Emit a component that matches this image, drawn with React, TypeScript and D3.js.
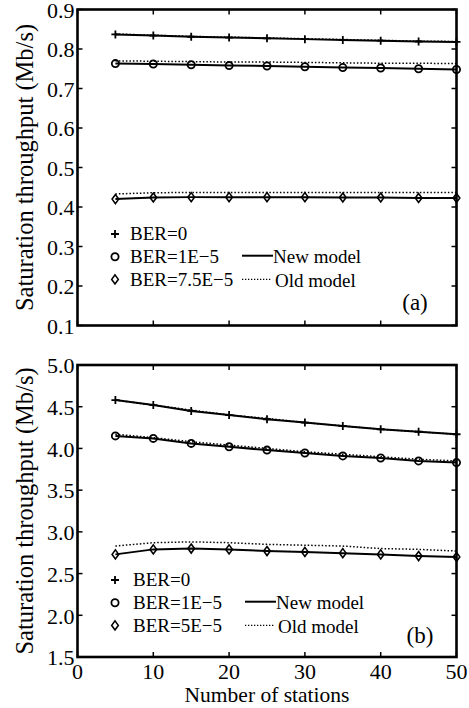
import React from 'react';
import * as d3 from 'd3';

// stations on the x axis
const stations = [5, 10, 15, 20, 25, 30, 35, 40, 45, 50];

// panel (a) values, Mb/s
const aBer0New = [0.837, 0.834, 0.831, 0.829, 0.827, 0.825, 0.823, 0.821, 0.819, 0.818];
const aBer0Old = [0.838, 0.835, 0.832, 0.830, 0.828, 0.826, 0.824, 0.822, 0.820, 0.819];
const aBer1New = [0.763, 0.762, 0.760, 0.758, 0.757, 0.755, 0.753, 0.752, 0.750, 0.748];
const aBer1Old = [0.770, 0.769, 0.768, 0.767, 0.767, 0.766, 0.765, 0.764, 0.764, 0.763];
const aBer2New = [0.420, 0.424, 0.425, 0.425, 0.425, 0.425, 0.424, 0.424, 0.423, 0.423];
const aBer2Old = [0.433, 0.436, 0.437, 0.437, 0.437, 0.437, 0.437, 0.437, 0.437, 0.437];

// panel (b) values, Mb/s
const bBer0New = [4.58, 4.52, 4.45, 4.40, 4.35, 4.31, 4.27, 4.23, 4.20, 4.17];
const bBer0Old = [4.58, 4.52, 4.46, 4.40, 4.36, 4.31, 4.27, 4.23, 4.20, 4.17];
const bBer1New = [4.15, 4.12, 4.06, 4.02, 3.98, 3.945, 3.91, 3.885, 3.85, 3.83];
const bBer1Old = [4.17, 4.13, 4.08, 4.04, 4.00, 3.96, 3.93, 3.90, 3.87, 3.85];
const bBer2New = [2.73, 2.79, 2.80, 2.79, 2.77, 2.76, 2.745, 2.73, 2.71, 2.70];
const bBer2Old = [2.83, 2.87, 2.88, 2.87, 2.85, 2.84, 2.83, 2.80, 2.79, 2.77];

const xTicks = [0, 10, 20, 30, 40, 50];
const aTicks = [0.1, 0.2, 0.3, 0.4, 0.5, 0.6, 0.7, 0.8, 0.9];
const bTicks = [1.5, 2.0, 2.5, 3.0, 3.5, 4.0, 4.5, 5.0];

const aLegend = ['BER=0', 'BER=1E\u22125', 'BER=7.5E\u22125'];
const bLegend = ['BER=0', 'BER=1E\u22125', 'BER=5E\u22125'];

const serif = "'Liberation Serif'";

type Marker = 'plus' | 'circle' | 'diamond';

const MarkerShape = ({ kind, x, y }: { kind: Marker; x: number; y: number }) => {
  if (kind === 'plus') {
    return (
      <path d={`M${x - 4},${y}H${x + 4}M${x},${y - 4}V${y + 4}`} stroke="#000" strokeWidth={1.8} fill="none" />
    );
  }
  if (kind === 'circle') {
    return <circle cx={x} cy={y} r={3.6} stroke="#000" strokeWidth={1.8} fill="none" />;
  }
  return (
    <path d={`M${x},${y - 4.5}L${x + 3.3},${y}L${x},${y + 4.5}L${x - 3.3},${y}Z`} stroke="#000" strokeWidth={1.6} fill="none" />
  );
};

type Series = { news: number[]; olds: number[]; marker: Marker };

const Panel = ({
  top, bottom, domain, ticks, series, legend, tag, legendY, tagX, tagY, textX, keyX, showXLabels,
}: {
  top: number; bottom: number; domain: [number, number]; ticks: number[];
  series: Series[]; legend: string[]; tag: string;
  legendY: number; tagX: number; tagY: number; textX: number; keyX: number; showXLabels: boolean;
}) => {
  const left = 77.5;
  const right = 456.5;
  const x = d3.scaleLinear().domain([0, 50]).range([left, right]);
  const y = d3.scaleLinear().domain(domain).range([bottom, top]);
  const line = d3.line<number>().x((_, i) => x(stations[i])).y(d => y(d));
  const fmt = d3.format('.1f');
  const tl = 5;
  const step = 22.7;

  return (
    <g>
      {series.map((s, k) => (
        <g key={k}>
          <path d={line(s.olds) || ''} fill="none" stroke="#000" strokeWidth={1.5} strokeDasharray="1.5,2" />
          <path d={line(s.news) || ''} fill="none" stroke="#000" strokeWidth={2} />
          {s.news.map((v, i) => (
            <MarkerShape key={i} kind={s.marker} x={x(stations[i])} y={y(v)} />
          ))}
        </g>
      ))}

      {/* ticks on all sides */}
      {ticks.map(t => (
        <g key={t} stroke="#000" strokeWidth={1.5}>
          <line x1={left} x2={left + tl} y1={y(t)} y2={y(t)} />
          <line x1={right} x2={right - tl} y1={y(t)} y2={y(t)} />
        </g>
      ))}
      {xTicks.map(t => (
        <g key={t} stroke="#000" strokeWidth={1.5}>
          <line x1={x(t)} x2={x(t)} y1={bottom} y2={bottom - tl} />
          <line x1={x(t)} x2={x(t)} y1={top} y2={top + tl} />
        </g>
      ))}
      <rect x={left} y={top} width={right - left} height={bottom - top} fill="none" stroke="#000" strokeWidth={2.6} />

      {ticks.map(t => (
        <text key={t} x={left - 3} y={y(t) + 1} dy="0.33em" textAnchor="end" fontSize={22} fontFamily={serif}>
          {fmt(t)}
        </text>
      ))}
      {showXLabels && xTicks.map(t => (
        <text key={t} x={x(t)} y={bottom + 15} dy="0.33em" textAnchor="middle" fontSize={22} fontFamily={serif}>
          {t}
        </text>
      ))}

      <text
        transform={`translate(25,${(top + bottom) / 2}) rotate(-90)`}
        dy="0.33em" textAnchor="middle" fontSize={24.5} fontFamily={serif}
      >
        Saturation throughput (Mb/s)
      </text>

      {/* legend */}
      {legend.map((lab, i) => (
        <g key={lab}>
          <MarkerShape kind={series[i].marker} x={115} y={legendY + i * step} />
          <text x={textX} y={legendY + i * step} dy="0.33em" fontSize={19} fontFamily={serif}>{lab}</text>
        </g>
      ))}
      <line x1={keyX} x2={keyX + 31} y1={legendY + step - 1} y2={legendY + step - 1} stroke="#000" strokeWidth={2} />
      <text x={keyX + 31} y={legendY + step + 0.5} dy="0.33em" fontSize={19} fontFamily={serif}>New model</text>
      <line x1={keyX} x2={keyX + 30} y1={legendY + 2 * step} y2={legendY + 2 * step} stroke="#000" strokeWidth={1.3} strokeDasharray="1.3,1.7" />
      <text x={keyX + 33} y={legendY + 2 * step + 1} dy="0.33em" fontSize={19} fontFamily={serif}>Old model</text>
      <text x={tagX} y={tagY} dy="0.33em" textAnchor="middle" fontSize={23} fontFamily={serif}>{tag}</text>
    </g>
  );
};

const App = () => {
  return (
    <svg
      width={469}
      height={708}
      style={{ position: 'absolute', left: 0, top: 0, background: '#fff' }}
    >
      <Panel
        top={9.5}
        bottom={325.5}
        domain={[0.1, 0.9]}
        ticks={aTicks}
        series={[
          { news: aBer0New, olds: aBer0Old, marker: 'plus' },
          { news: aBer1New, olds: aBer1Old, marker: 'circle' },
          { news: aBer2New, olds: aBer2Old, marker: 'diamond' },
        ]}
        legend={aLegend}
        tag="(a)"
        legendY={234}
        tagX={415}
        tagY={302}
        textX={130}
        keyX={242}
        showXLabels={false}
      />
      <Panel
        top={365}
        bottom={657}
        domain={[1.5, 5.0]}
        ticks={bTicks}
        series={[
          { news: bBer0New, olds: bBer0Old, marker: 'plus' },
          { news: bBer1New, olds: bBer1Old, marker: 'circle' },
          { news: bBer2New, olds: bBer2Old, marker: 'diamond' },
        ]}
        legend={bLegend}
        tag="(b)"
        legendY={580}
        tagX={420}
        tagY={635}
        textX={133}
        keyX={245}
        showXLabels={true}
      />
      <text x={267} y={695} dy="0.33em" textAnchor="middle" fontSize={21.5} fontFamily={serif}>
        Number of stations
      </text>
    </svg>
  );
};

export default App;
